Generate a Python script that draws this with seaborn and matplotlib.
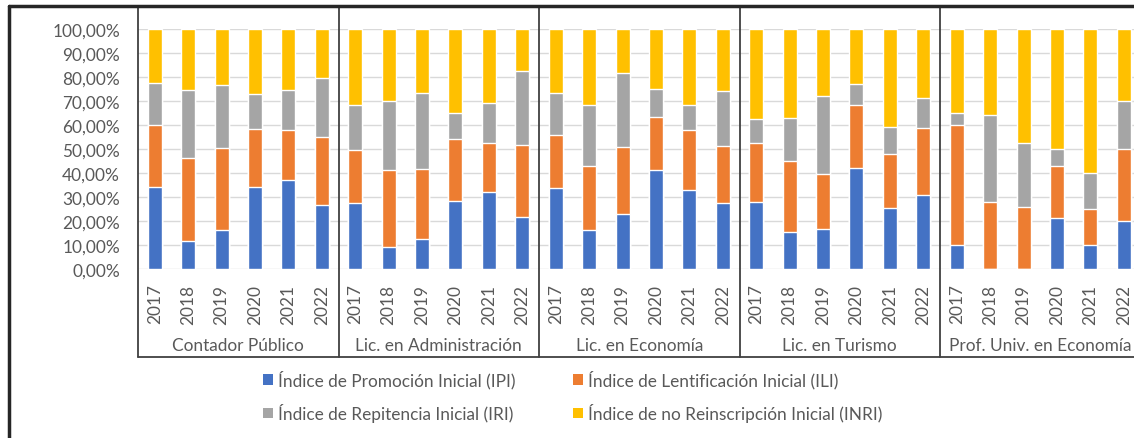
import matplotlib
matplotlib.use("Agg")
import matplotlib.pyplot as plt
from matplotlib.patches import Patch
from matplotlib.lines import Line2D
import matplotlib.transforms as mtransforms
import seaborn as sns
import pandas as pd
import numpy as np

# ---- data (percent) ----
careers = ["Contador Público", "Lic. en Administración", "Lic. en Economía",
           "Lic. en Turismo", "Prof. Univ. en Economía"]
years = ["2017", "2018", "2019", "2020", "2021", "2022"]

ipi = [34.0, 11.8, 16.4, 34.3, 37.2, 26.5,
       27.5, 9.3, 12.5, 28.2, 32.1, 21.7,
       33.6, 16.1, 23.1, 41.3, 32.8, 27.4,
       28.1, 15.4, 16.8, 42.2, 25.6, 30.7,
       10.0, 0.0, 0.0, 21.3, 10.0, 20.0]
ili = [26.1, 34.6, 33.9, 24.2, 20.6, 28.6,
       22.2, 32.0, 29.3, 25.8, 20.4, 30.1,
       22.2, 26.8, 27.7, 22.2, 25.0, 23.8,
       24.4, 29.6, 22.8, 26.1, 22.3, 28.0,
       50.0, 27.9, 26.0, 21.6, 15.0, 30.0]
iri = [17.5, 28.0, 26.4, 14.6, 16.9, 24.3,
       18.8, 28.8, 31.5, 10.9, 16.7, 30.7,
       17.7, 25.3, 30.9, 11.6, 10.4, 22.8,
       10.0, 17.8, 32.5, 8.6, 11.4, 12.4,
       5.0, 36.3, 26.5, 7.1, 15.0, 20.0]
inri = [22.4, 25.6, 23.3, 26.9, 25.3, 20.6,
        31.5, 29.9, 26.7, 35.1, 30.8, 17.5,
        26.5, 31.8, 18.3, 24.9, 31.8, 26.0,
        37.5, 37.2, 27.9, 23.1, 40.7, 28.9,
        35.0, 35.8, 47.5, 50.0, 60.0, 30.0]

series_names = ["Índice de Promoción Inicial (IPI)",
                "Índice de Lentificación Inicial (ILI)",
                "Índice de Repitencia Inicial (IRI)",
                "Índice de no Reinscripción Inicial (INRI)"]
colors = ["#4472C4", "#ED7D31", "#A5A5A5", "#FFC000"]

# ---- build table ----
keys = [f"{c}|{y}" for c in careers for y in years]
df = pd.DataFrame({"key": keys, "IPI": ipi, "ILI": ili, "IRI": iri, "INRI": inri})
cols = ["IPI", "ILI", "IRI", "INRI"]
for c in cols:
    df[c] = df[c] / 100.0
cum = df[cols].cumsum(axis=1)

sns.set_style("white")
plt.rcParams["font.family"] = ["Lato", "DejaVu Sans"]
text_color = "#595959"
fs = 12.4

fig = plt.figure(figsize=(11.34, 4.39), dpi=100)
W, H = 1134, 439
left_px, top_px, bot_px = 138, 30, 270
group_px = 200.5
right_px = left_px + 5 * group_px
ax = fig.add_axes([left_px / W, 1 - bot_px / H, (right_px - left_px) / W, (bot_px - top_px) / H])

# draw stacked bars from the top level down
for i in range(3, -1, -1):
    d = pd.DataFrame({"key": df["key"], "val": cum[cols[i]]})
    sns.barplot(data=d, x="key", y="val", order=keys, color=colors[i],
                width=0.42, errorbar=None, ax=ax, saturation=1, zorder=3)

ax.set_xlim(-0.5, len(keys) - 0.5)
ax.set_ylim(0, 1)
yt = np.arange(0, 1.01, 0.1)
ax.set_yticks(yt)
ax.set_yticklabels([f"{v*100:.2f}%".replace(".", ",") for v in yt],
                   fontsize=fs, color=text_color)
ax.yaxis.grid(True, color="#D9D9D9", linewidth=1, zorder=0)
ax.set_axisbelow(True)
ax.set_xticks(range(len(keys)))
ax.set_xticklabels(years * len(careers), rotation=90, fontsize=fs, color=text_color)
ax.tick_params(axis="x", length=0, pad=10.5)
ax.tick_params(axis="y", length=0, pad=13)
ax.set_xlabel("")
ax.set_ylabel("")
for s in ax.spines.values():
    s.set_visible(False)

trans = mtransforms.blended_transform_factory(ax.transData, ax.transAxes)
y_top = 1 + (top_px - 7) / (bot_px - top_px)
y_bot = -(358 - bot_px) / (bot_px - top_px)
line_col = "#404040"
for g in range(len(careers)):
    xsep = g * 6 - 0.5
    ax.add_line(Line2D([xsep, xsep], [y_bot, y_top], transform=trans,
                       color=line_col, linewidth=1.3, clip_on=False, zorder=5))
    ax.text(g * 6 + 2.5, -(346 - bot_px) / (bot_px - top_px), careers[g],
            transform=trans, ha="center", va="center", fontsize=fs, color=text_color)
ax.add_line(Line2D([-0.5, len(keys) - 0.5], [y_bot, y_bot], transform=trans,
                   color=line_col, linewidth=1.3, clip_on=False, zorder=5))

# legend
handles = [Patch(facecolor=colors[i], edgecolor="none") for i in range(4)]
order = [0, 2, 1, 3]
fig.legend([handles[i] for i in order], [series_names[i] for i in order],
           ncol=2, loc="center", bbox_to_anchor=(0.505, 1 - 397 / H),
           frameon=False, fontsize=fs, labelcolor=text_color,
           handlelength=0.6, handleheight=0.6, handletextpad=0.3,
           columnspacing=3.3, labelspacing=0.85)

# outer chart border (partially cropped)
bx = 8.5 / W
by = 1 - 6.5 / H
fig.add_artist(Line2D([bx, bx], [-0.1, by], transform=fig.transFigure,
                      color="#262626", linewidth=2.5))
fig.add_artist(Line2D([bx, 1.1], [by, by], transform=fig.transFigure,
                      color="#262626", linewidth=2.5))

fig.savefig("out.png", dpi=100, facecolor="white")
